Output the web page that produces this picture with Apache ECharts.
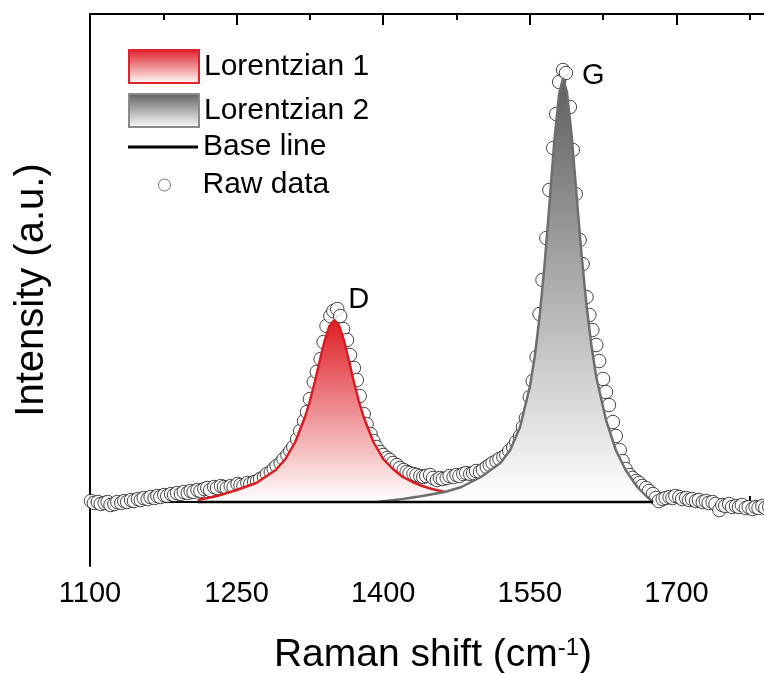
<!DOCTYPE html>
<html>
<head>
<meta charset="utf-8">
<script src="https://cdn.jsdelivr.net/npm/echarts@6/dist/echarts.min.js"></script>
<style>
  html, body { margin: 0; padding: 0; background: #fff; overflow: hidden; }
  #chart { width: 823px; height: 673px; }
</style>
</head>
<body>
<div id="chart"></div>
<script>
// Raman spectrum: measured points
const rawShift = [
  1101,1104,1108,1111,1115, 1118,1121,1125,1128,1132, 1135,1138,1142,1145,1149,
  1152,1155,1159,1162,1166, 1169,1172,1176,1179,1183, 1186,1189,1193,1196,1200,
  1203,1206,1210,1213,1217, 1220,1223,1227,1230,1234, 1237,1240,1244,1247,1251,
  1254,1257,1261,1264,1268, 1271,1274,1278,1281,1285, 1288,1291,1295,1298,1302,
  1305,1308,1312,1315,1319, 1322,1325,1329,1332,1336, 1339,1342,1346,1349,1353,
  1356,1359,1363,1366,1370, 1373,1376,1380,1383,1387, 1390,1393,1397,1400,1404,
  1407,1410,1414,1417,1421, 1424,1427,1431,1434,1438, 1441,1444,1448,1451,1455,
  1458,1461,1465,1468,1472, 1475,1478,1482,1485,1489, 1492,1495,1499,1502,1506,
  1509,1512,1516,1519,1523, 1526,1529,1533,1536,1540, 1543,1546,1550,1553,1557,
  1560,1563,1567,1570,1574, 1577,1580,1584,1587,1591, 1594,1597,1601,1604,1608,
  1611,1614,1618,1621,1625, 1628,1631,1635,1638,1642, 1645,1648,1652,1655,1659,
  1662,1665,1669,1672,1676, 1679,1682,1686,1689,1693, 1696,1699,1703,1706,1710,
  1713,1716,1720,1723,1727, 1730,1733,1737,1740,1744, 1747,1750,1754,1757,1761,
  1764,1767,1771,1774,1778, 1781,1784,1788,1791,1795
];
const rawIntensity = [
  1,-1,0,-2,-1, 0,-3,-2,0,-1, 1,0,2,1,3,
  2,4,3,5,4, 6,5,7,6,8, 7,9,8,10,9,
  11,10,12,11,13, 14,12,15,14,16, 15,14,16,15,18,
  17,16,19,18,20, 21,23,25,28,30, 33,36,39,43,47,
  51,55,63,71,81, 90,103,120,130,143, 160,176,186,191,193,
  186,173,162,147,134, 122,106,88,78,68, 61,55,50,47,44,
  42,39,37,34,32, 30,29,28,27,26, 25,26,27,24,22,
  24,23,24,26,25, 27,26,28,29,28, 29,31,30,32,35,
  37,39,41,43,45, 47,51,55,60,66, 75,84,105,121,145,
  188,222,264,312,354, 388,420,432,429,395, 352,308,262,238,205,
  187,172,157,141,123, 110,97,80,66,52, 41,33,27,24,21,
  19,16,14,11,8, 4,1,3,4,5, 4,6,5,3,4,
  2,3,1,2,0, 1,-1,0,-2,-8, -3,-4,-2,-5,-4,
  -5,-3,-6,-5,-7, -5,-6,-4,-6,-5
];

// Fitted components
const lor1Shift = [1210,1230,1250,1270,1290,1300,1310,1320,1325,1330,1335,1340,1345,1350,
                   1355,1360,1365,1370,1375,1380,1390,1400,1410,1420,1430,1440,1450,1463];
const lor1Intensity = [2,6,12,19,32,43,60,85,101,120,141,161,176,182,
                       176,161,141,120,101,85,60,43,33,25,20,16,13,10];

const lor2Shift = [1394,1420,1440,1463,1480,1500,1520,1530,1540,1550,1555,1560,1565,1570,1575,1580,
                   1584,1588,1593,1598,1603,1608,1613,1618,1628,1638,1648,1660,1668,1676];
const lor2Intensity = [0,3,6,10,15,25,39,52,75,115,145,185,236,297,360,408,
                       424,410,365,305,247,197,157,125,82,52,32,15,7,0];

const baseShift = [1210, 1676];
const baseIntensity = [0, 0];

// Peak annotations
const peakNames = ['D', 'G'];
const peakLabelShift = [1375, 1615];
const peakLabelIntensity = [202, 426];

// Wavenumber axis: ticks every 150 cm-1
const xTickStart = 1100, xTickEnd = 1850, xTickStep = 150;

const pairs = (xs, ys) => xs.map((x, i) => [x, ys[i]]);
const FONT = "'Liberation Sans', Arial, 'DejaVu Sans', sans-serif";

const redFill = {
  type: 'linear', x: 0, y: 0, x2: 0, y2: 1,
  colorStops: [{ offset: 0, color: '#de1d25' }, { offset: 1, color: '#ffffff' }]
};
const grayFill = {
  type: 'linear', x: 0, y: 0, x2: 0, y2: 1,
  colorStops: [{ offset: 0, color: '#5e5e5e' }, { offset: 1, color: '#ffffff' }]
};

const chart = echarts.init(document.getElementById('chart'), null, { renderer: 'canvas' });

const commonX = {
  type: 'value',
  min: xTickStart,
  max: xTickEnd,
  interval: xTickStep,
  splitLine: { show: false },
  axisLine: { show: true, lineStyle: { color: '#000', width: 2 } },
  axisTick: { show: true, inside: true, length: 11, lineStyle: { color: '#000', width: 2 } },
  minorTick: { show: true, splitNumber: 2, length: 6, lineStyle: { color: '#000', width: 2 } },
  minorSplitLine: { show: false }
};

const legendText = { fontFamily: FONT, fontSize: 30, color: '#000' };

chart.setOption({
  animation: false,
  backgroundColor: '#fff',
  grid: { left: 90, top: 14, bottom: 107, right: 0, containLabel: false, outerBoundsMode: 'none' },
  xAxis: [
    Object.assign({}, commonX, {
      position: 'bottom',
      axisLabel: { show: true, margin: 13, fontFamily: FONT, fontSize: 29, color: '#000',
                   formatter: v => String(v) },
      name: 'Raman shift (cm{sup|-1})',
      nameLocation: 'middle',
      nameGap: 70,
      nameTextStyle: {
        fontFamily: FONT, fontSize: 39, color: '#000',
        padding: [0, 47, 0, 0],
        rich: { sup: { fontFamily: FONT, fontSize: 24, color: '#000', verticalAlign: 'top' } }
      }
    }),
    Object.assign({}, commonX, {
      position: 'top',
      axisLabel: { show: false }
    })
  ],
  yAxis: {
    type: 'value',
    min: -64,
    max: 488,
    axisLine: { show: true, lineStyle: { color: '#000', width: 2 } },
    axisTick: { show: false },
    axisLabel: { show: false },
    splitLine: { show: false },
    name: 'Intensity (a.u.)',
    nameLocation: 'middle',
    nameGap: 38,
    nameTextStyle: { fontFamily: FONT, fontSize: 40, color: '#000' }
  },
  legend: [
    {
      orient: 'vertical', left: 128, top: 49, padding: 0,
      itemWidth: 70, itemHeight: 33, itemGap: 9,
      selectedMode: false,
      textStyle: legendText,
      data: [
        { name: 'Lorentzian 1', icon: 'rect',
          itemStyle: { color: redFill, borderColor: '#e0232a', borderWidth: 2 } },
        { name: 'Lorentzian 2', icon: 'rect',
          itemStyle: { color: grayFill, borderColor: '#8a8a8a', borderWidth: 2 } }
      ]
    },
    {
      orient: 'vertical', left: 128, top: 132, padding: 0,
      itemWidth: 70, itemHeight: 3,
      selectedMode: false,
      textStyle: legendText,
      data: [{ name: 'Base line', icon: 'rect', itemStyle: { color: '#000' } }]
    },
    {
      orient: 'vertical', left: 158, top: 170, padding: 0,
      itemWidth: 12, itemHeight: 12,
      selectedMode: false,
      textStyle: Object.assign({}, legendText, { padding: [0, 0, 0, 27] }),
      data: [{ name: 'Raw data', icon: 'circle',
               itemStyle: { color: '#fff', borderColor: '#555', borderWidth: 1 } }]
    }
  ],
  series: [
    {
      name: 'Lorentzian 1',
      type: 'line',
      data: pairs(lor1Shift, lor1Intensity),
      smooth: false,
      symbol: 'none',
      lineStyle: { color: '#d81c22', width: 2.5 },
      itemStyle: { color: '#d81c22' },
      areaStyle: { color: redFill, opacity: 1 },
      markPoint: {
        symbol: 'circle', symbolSize: 1,
        itemStyle: { color: 'rgba(0,0,0,0)' },
        label: { show: true, position: 'inside', fontFamily: FONT, fontSize: 29, color: '#000',
                 formatter: peakNames[0] },
        data: [{ coord: [peakLabelShift[0], peakLabelIntensity[0]] }]
      }
    },
    {
      name: 'Lorentzian 2',
      type: 'line',
      data: pairs(lor2Shift, lor2Intensity),
      smooth: false,
      symbol: 'none',
      lineStyle: { color: '#6e6e6e', width: 2.5 },
      itemStyle: { color: '#6e6e6e' },
      areaStyle: { color: grayFill, opacity: 1 },
      markPoint: {
        symbol: 'circle', symbolSize: 1,
        itemStyle: { color: 'rgba(0,0,0,0)' },
        label: { show: true, position: 'inside', fontFamily: FONT, fontSize: 29, color: '#000',
                 formatter: peakNames[1] },
        data: [{ coord: [peakLabelShift[1], peakLabelIntensity[1]] }]
      }
    },
    {
      name: 'Base line',
      type: 'line',
      data: pairs(baseShift, baseIntensity),
      symbol: 'none',
      lineStyle: { color: '#000', width: 2.5 },
      itemStyle: { color: '#000' }
    },
    {
      name: 'Raw data',
      type: 'scatter',
      data: pairs(rawShift, rawIntensity),
      symbol: 'circle',
      symbolSize: 13.5,
      itemStyle: { color: '#ffffff', borderColor: '#1a1a1a', borderWidth: 1 }
    }
  ]
});
</script>
</body>
</html>
